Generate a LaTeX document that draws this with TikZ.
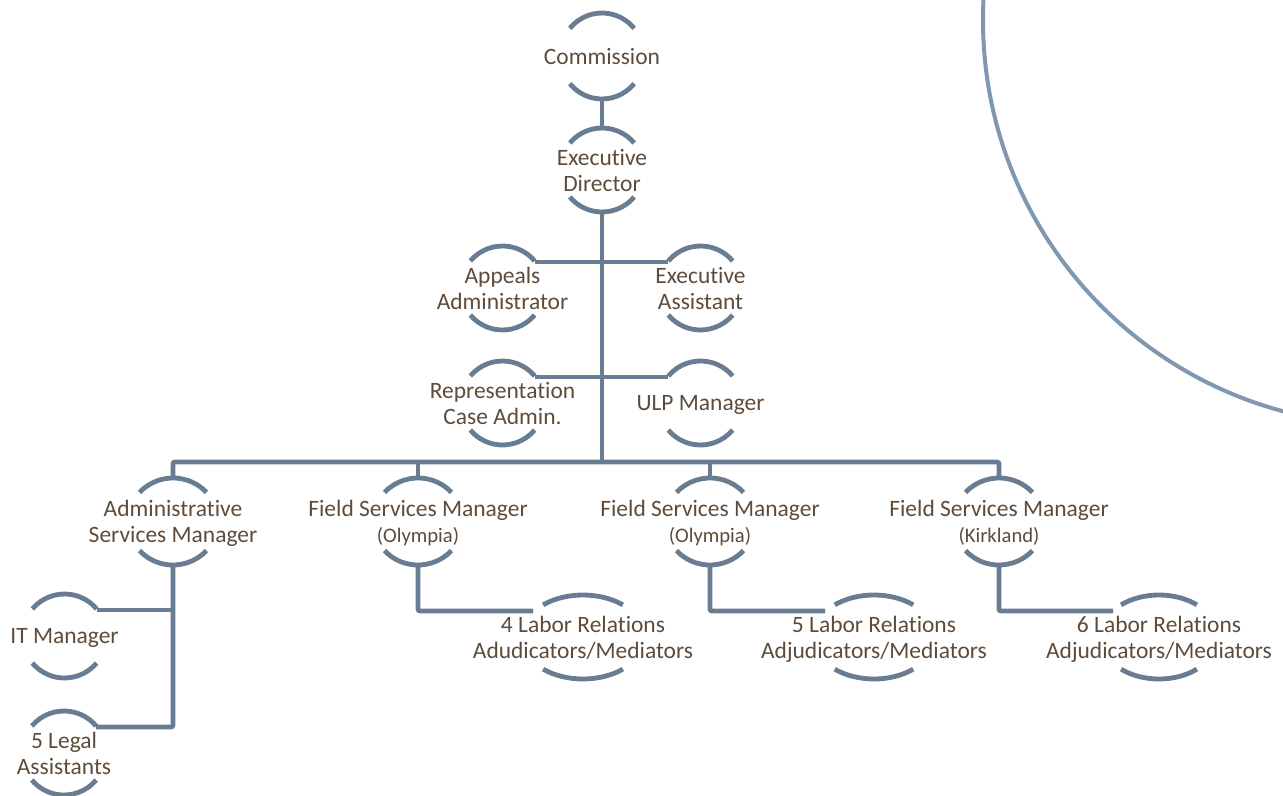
\documentclass[tikz,border=0pt]{standalone}
\usepackage{fontspec}
\setmainfont[Ligatures={NoCommon,NoDiscretionary}]{Carlito}
\definecolor{txtc}{RGB}{94,75,58}
\definecolor{linec}{RGB}{104,125,146}
\definecolor{bigc}{RGB}{127,152,176}
\tikzset{
 lbl/.style={inner sep=0pt, align=center, text depth=0pt, text=txtc, font=\fontsize{17.6}{19.5}\selectfont},
 ring/.style={draw=linec, line width=3.6pt},
 conn/.style={draw=linec, line width=3.6pt, rounded corners=1.5pt},
 bigarc/.style={draw=bigc, line width=3pt}
}
\newcommand\smalltxt{\fontsize{15.5}{19.5}\selectfont}
% name, x, y, xr, yr, angle, text
\newcommand\orgnode[7]{%
  \node[lbl] (#1) at (#2,#3) {#7};
  \draw[ring] (#2,#3) ++({180+#6}:#4 and #5) arc[start angle={180+#6}, end angle={360-#6}, x radius=#4, y radius=#5];
  \draw[ring] (#2,#3) ++(#6:#4 and #5) arc[start angle=#6, end angle={180-#6}, x radius=#4, y radius=#5];
  \coordinate (#1-t) at ({#2},{#3-#5});
  \coordinate (#1-b) at ({#2},{#3+#5});
  \coordinate (#1-hl) at ({#2-#4*cos(#6)},{#3-26});
  \coordinate (#1-hr) at ({#2+#4*cos(#6)},{#3-26});
}
\begin{document}
\begin{tikzpicture}[x=0.75pt,y=-0.75pt]
\useasboundingbox (0,0) rectangle (1283,796);
\draw[bigarc] (1388,20) circle (405);

\orgnode{comm}{602}{56}{42}{43}{40}{Commission}
\orgnode{exec}{602}{170}{42}{42}{40}{Executive\\Director}
\orgnode{app}{502.5}{288}{42}{42}{40}{Appeals\\Administrator}
\orgnode{ea}{700.5}{288}{42}{42}{40}{Executive\\Assistant}
\orgnode{rep}{502.5}{403}{42}{42}{40}{Representation\\Case Admin.}
\orgnode{ulp}{700.5}{403}{42}{42}{40}{ULP Manager}
\orgnode{adm}{173}{521.5}{45}{43.5}{42}{Administrative\\Services Manager}
\orgnode{fsa}{418}{521.5}{45}{43.5}{42}{Field Services Manager\\{\smalltxt (Olympia)}}
\orgnode{fsb}{710}{521.5}{45}{43.5}{42}{Field Services Manager\\{\smalltxt (Olympia)}}
\orgnode{fsc}{999}{521.5}{45}{43.5}{42}{Field Services Manager\\{\smalltxt (Kirkland)}}
\orgnode{it}{64.5}{636}{42}{42}{40}{IT Manager}
\orgnode{legal}{64}{753}{42}{42}{40}{5 Legal\\Assistants}
\orgnode{lra}{583}{637}{62}{42}{50}{4 Labor Relations\\Adudicators/Mediators}
\orgnode{lrb}{874}{637}{61}{42}{50}{5 Labor Relations\\Adjudicators/Mediators}
\orgnode{lrc}{1159}{637}{59}{42}{50}{6 Labor Relations\\Adjudicators/Mediators}

\coordinate (bar) at (602,462);
\coordinate (lra-in) at (533,611);
\coordinate (lrb-in) at (825,611);
\coordinate (lrc-in) at (1113,611);

\draw[conn] (comm-b) -- (exec-t);
\draw[conn] (exec-b) -- (bar);
\draw[conn] (adm-t) -- (adm-t |- bar) -- (fsc-t |- bar) -- (fsc-t);
\draw[conn] (fsa-t |- bar) -- (fsa-t);
\draw[conn] (fsb-t |- bar) -- (fsb-t);
\draw[conn] (app-hr) -- (ea-hl);
\draw[conn] (rep-hr) -- (ulp-hl);
\draw[conn] (adm-b) -- (adm-b |- legal-hr) -- (legal-hr);
\draw[conn] (it-hr) -- (it-hr -| adm-b);
\draw[conn] (fsa-b) -- (fsa-b |- lra-in) -- (lra-in);
\draw[conn] (fsb-b) -- (fsb-b |- lrb-in) -- (lrb-in);
\draw[conn] (fsc-b) -- (fsc-b |- lrc-in) -- (lrc-in);
\end{tikzpicture}
\end{document}
